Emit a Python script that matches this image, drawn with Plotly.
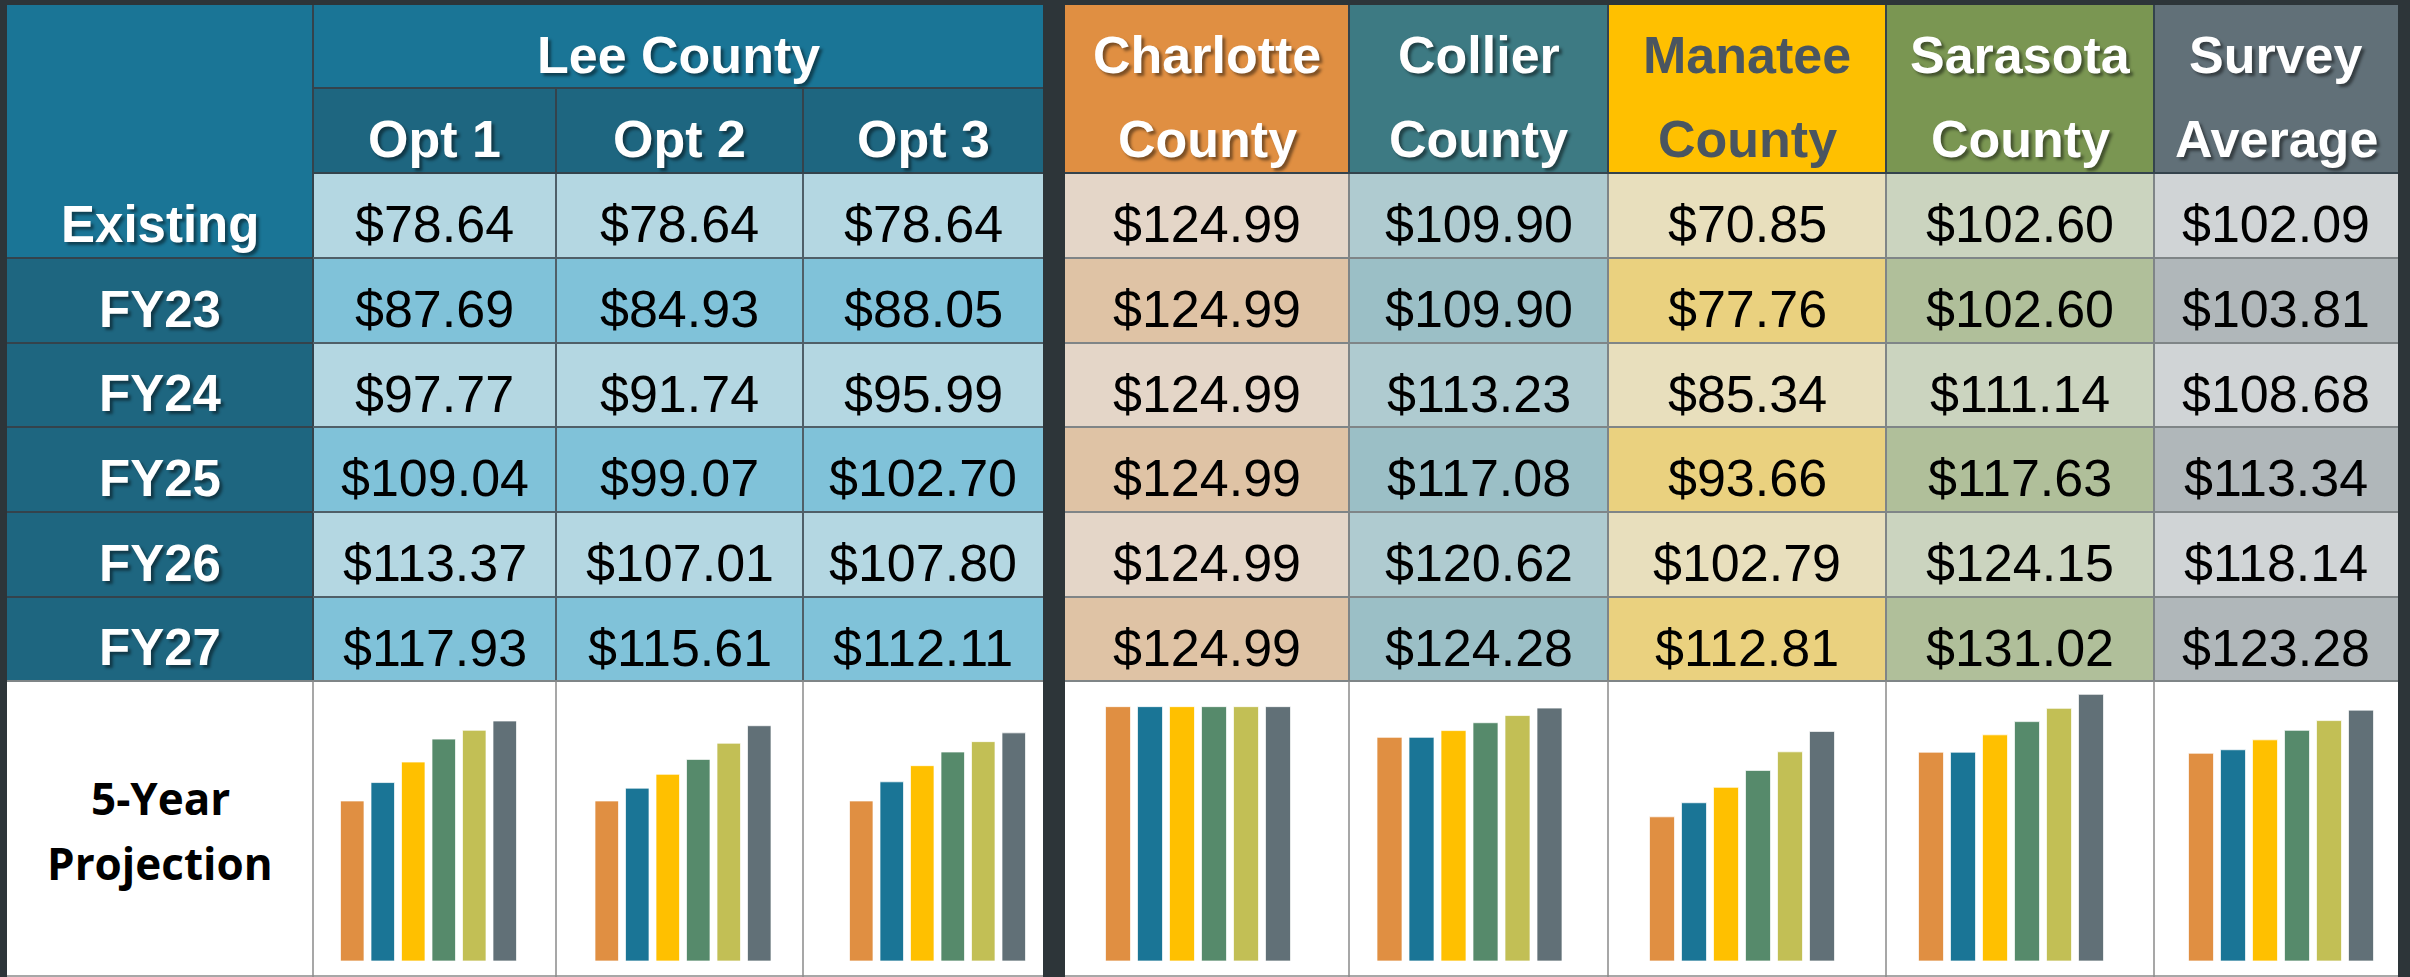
import plotly.graph_objects as go

# ---------------- data ----------------
row_labels = ["Existing", "FY23", "FY24", "FY25", "FY26", "FY27"]
lee_title = "Lee County"
lee_options = ["Opt 1", "Opt 2", "Opt 3"]
lee_opt1 = [78.64, 87.69, 97.77, 109.04, 113.37, 117.93]
lee_opt2 = [78.64, 84.93, 91.74, 99.07, 107.01, 115.61]
lee_opt3 = [78.64, 88.05, 95.99, 102.70, 107.80, 112.11]
other_titles = [["Charlotte", "County"], ["Collier", "County"], ["Manatee", "County"],
                ["Sarasota", "County"], ["Survey", "Average"]]
charlotte = [124.99, 124.99, 124.99, 124.99, 124.99, 124.99]
collier = [109.90, 109.90, 113.23, 117.08, 120.62, 124.28]
manatee = [70.85, 77.76, 85.34, 93.66, 102.79, 112.81]
sarasota = [102.60, 102.60, 111.14, 117.63, 124.15, 131.02]
survey = [102.09, 103.81, 108.68, 113.34, 118.14, 123.28]
projection_label = ["5-Year", "Projection"]

series = [lee_opt1, lee_opt2, lee_opt3, charlotte, collier, manatee, sarasota, survey]

# ---------------- layout / style ----------------
W, H = 2410, 977
BG = "#2d3539"
label_x = (7, 313)
col_x = [(313, 556), (556, 803), (803, 1043), (1065, 1349), (1349, 1608),
         (1608, 1886), (1886, 2154), (2154, 2398)]
y_top, y_h1, y_h2 = 5, 88, 173
row_edges = [173, 258, 343, 427, 512, 597, 681]
y_bottom = 977
TXT_DY = 8.5

lee_head = "#1a7596"
lee_sub = "#1e6680"
light_fill = ["#b4d7e2", "#b4d7e2", "#b4d7e2", "#e4d6c8", "#afcbd0", "#e8dfbd", "#cbd4bf", "#d0d4d6"]
dark_fill = ["#80c2d9", "#80c2d9", "#80c2d9", "#dfc3a5", "#9bbfc6", "#ead17f", "#b0bf9a", "#b0b7ba"]
other_head = ["#e08f42", "#3d7a83", "#ffc000", "#7a9652", "#617078"]
other_head_txt = ["white", "white", "#4a5560", "white", "white"]
bar_colors = ["#e08f42", "#1a7596", "#ffc000", "#568a6b", "#c2bf55", "#617077"]

bar_center = [428.5, 683, 937.5, 1198, 1469.5, 1742, 2011, 2281]
bar_pitch = [30.5, 30.5, 30.5, 32, 32, 32, 32, 32]
bar_w = [23.5, 23.5, 23.5, 25, 25, 25, 25, 25]
base_px, top_px, px_per_unit = 961, 681, 2.035

SHADOW = "3px 3px 3px rgba(0,0,0,0.45)"
HEAD_FONT = "Liberation Sans, Arial, sans-serif"

shapes = []
annotations = []


def rect(x0, x1, y0, y1, color, layer="below"):
    shapes.append(dict(type="rect", xref="x", yref="y", x0=x0, x1=x1, y0=y0, y1=y1,
                       fillcolor=color, line=dict(width=0), layer=layer))


def line(x0, x1, y0, y1, color, width=2):
    shapes.append(dict(type="line", xref="x", yref="y", x0=x0, x1=x1, y0=y0, y1=y1,
                       line=dict(color=color, width=width), layer="below"))


def text(x, y, s, size, color="black", bold=False, family=HEAD_FONT, shadow=None):
    f = dict(size=size, color=color, family=family, weight=700 if bold else 400)
    if shadow:
        f["shadow"] = shadow
    annotations.append(dict(xref="x", yref="y", x=x, y=y, text=s, showarrow=False,
                            xanchor="center", yanchor="middle", font=f))


# projection background (white)
rect(label_x[0], col_x[2][1], row_edges[-1], y_bottom, "white")
rect(col_x[3][0], col_x[-1][1], row_edges[-1], y_bottom, "white")

# label column
rect(label_x[0], label_x[1], y_top, row_edges[1], lee_head)
rect(label_x[0], label_x[1], row_edges[1], row_edges[-1], lee_sub)
lx = (label_x[0] + label_x[1]) / 2
for i, lab in enumerate(row_labels):
    yc = (row_edges[i] + row_edges[i + 1]) / 2 + TXT_DY
    text(lx, yc, lab, 51, "white", True, shadow=SHADOW)

# Lee County header
rect(col_x[0][0], col_x[2][1], y_top, y_h1, lee_head)
text((col_x[0][0] + col_x[2][1]) / 2, (y_top + y_h1) / 2 + TXT_DY, lee_title, 52, "white", True, shadow=SHADOW)
for j, opt in enumerate(lee_options):
    x0, x1 = col_x[j]
    rect(x0, x1, y_h1, y_h2, lee_sub)
    text((x0 + x1) / 2, (y_h1 + y_h2) / 2 + TXT_DY, opt, 52, "white", True, shadow=SHADOW)

# other headers
for k, t in enumerate(other_titles):
    x0, x1 = col_x[3 + k]
    rect(x0, x1, y_top, y_h2, other_head[k])
    sh = SHADOW if other_head_txt[k] == "white" else None
    text((x0 + x1) / 2, (y_top + y_h1) / 2 + TXT_DY, t[0], 52, other_head_txt[k], True, shadow=sh)
    text((x0 + x1) / 2, (y_h1 + y_h2) / 2 + TXT_DY, t[1], 52, other_head_txt[k], True, shadow=sh)

# value cells
for j, vals in enumerate(series):
    x0, x1 = col_x[j]
    for i, v in enumerate(vals):
        y0, y1 = row_edges[i], row_edges[i + 1]
        rect(x0, x1, y0, y1, light_fill[j] if i % 2 == 0 else dark_fill[j])
        text((x0 + x1) / 2, (y0 + y1) / 2 + TXT_DY, f"${v:,.2f}", 52, "black")

# grid lines
DARK_LINE = "#34434c"
MID_LINE = "#4f5f68"
GRAY_LINE = "#7f8587"
lee_r = col_x[2][1]
line(label_x[1], label_x[1], y_top, row_edges[-1], DARK_LINE)
line(col_x[0][0], lee_r, y_h1, y_h1, DARK_LINE)
for j in range(1, 3):
    line(col_x[j][0], col_x[j][0], y_h1, y_h2, DARK_LINE)
    line(col_x[j][0], col_x[j][0], y_h2, row_edges[-1], MID_LINE)
line(col_x[0][0], lee_r, row_edges[0], row_edges[0], DARK_LINE)
for ye in row_edges[1:-1]:
    line(label_x[0], label_x[1], ye, ye, DARK_LINE)
    line(col_x[0][0], lee_r, ye, ye, MID_LINE)
line(label_x[0], lee_r, row_edges[-1], row_edges[-1], GRAY_LINE)
r0, r1 = col_x[3][0], col_x[-1][1]
for j in range(4, 8):
    line(col_x[j][0], col_x[j][0], y_top, y_h2, DARK_LINE)
    line(col_x[j][0], col_x[j][0], y_h2, row_edges[-1], GRAY_LINE)
line(r0, r1, y_h2, y_h2, DARK_LINE)
for ye in row_edges[1:]:
    line(r0, r1, ye, ye, GRAY_LINE)
# projection row lines
for j in [0, 1, 2, 4, 5, 6, 7]:
    line(col_x[j][0], col_x[j][0], row_edges[-1], y_bottom, "#8a8a8a", 1.5)
line(label_x[0], lee_r, y_bottom - 1, y_bottom - 1, "#8a8a8a", 1.5)
line(r0, r1, y_bottom - 1, y_bottom - 1, "#8a8a8a", 1.5)

# projection label
text(lx, 797.5, projection_label[0], 44, "black", True, family="Open Sans, sans-serif")
text(lx, 863, projection_label[1], 44, "black", True, family="Open Sans, sans-serif")

fig = go.Figure()
layout = dict(
    width=W, height=H, margin=dict(l=0, r=0, t=0, b=0),
    paper_bgcolor=BG, plot_bgcolor="rgba(0,0,0,0)", showlegend=False,
    xaxis=dict(range=[0, W], domain=[0, 1], visible=False, fixedrange=True),
    yaxis=dict(range=[H, 0], domain=[0, 1], visible=False, fixedrange=True),
    shapes=shapes, annotations=annotations,
)
# invisible anchor trace for the main (table) axes
fig.add_trace(go.Scatter(x=[0], y=[0], mode="markers", marker=dict(opacity=0), hoverinfo="skip"))

y_dom = [1 - base_px / H, 1 - top_px / H]
y_max = (base_px - top_px) / px_per_unit
for j, vals in enumerate(series):
    n = len(vals)
    c, p = bar_center[j], bar_pitch[j]
    xd = [(c - n * p / 2) / W, (c + n * p / 2) / W]
    ax = j + 2
    layout[f"xaxis{ax}"] = dict(domain=xd, anchor=f"y{ax}", visible=False, fixedrange=True,
                                range=[-0.5, n - 0.5])
    layout[f"yaxis{ax}"] = dict(domain=y_dom, anchor=f"x{ax}", visible=False, fixedrange=True,
                                range=[0, y_max])
    fig.add_trace(go.Bar(x=list(range(n)), y=vals, width=bar_w[j] / p,
                         marker=dict(color=bar_colors, line=dict(color="rgba(255,255,255,0.7)", width=1)),
                         xaxis=f"x{ax}", yaxis=f"y{ax}", hoverinfo="skip"))

fig.update_layout(**layout)
fig.write_html(
    "out.html",
    config={"displayModeBar": False, "staticPlot": True},
    post_script="document.body.style.margin='0';document.body.style.padding='0';"
                "document.body.style.background='" + BG + "';",
)
